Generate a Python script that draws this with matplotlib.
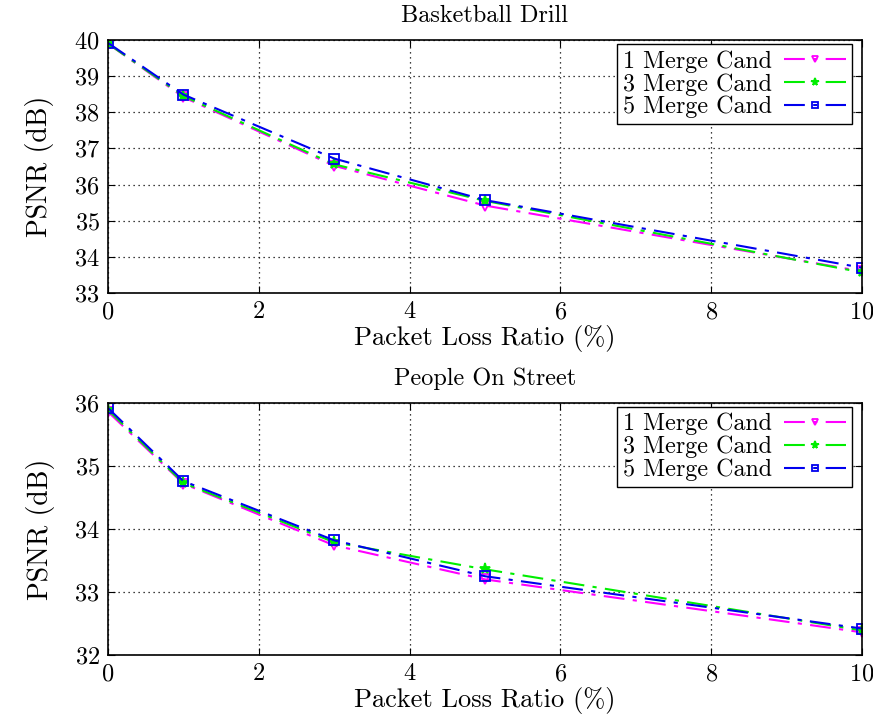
import matplotlib
matplotlib.use("Agg")
import matplotlib.pyplot as plt

# packet loss ratio (%)
loss = [0, 1, 3, 5, 10]

# Basketball Drill PSNR (dB)
bd_merge1 = [39.90, 38.42, 36.52, 35.42, 33.60]
bd_merge3 = [39.90, 38.45, 36.56, 35.55, 33.57]
bd_merge5 = [39.92, 38.49, 36.72, 35.57, 33.70]

# People On Street PSNR (dB)
ps_merge1 = [35.86, 34.72, 33.74, 33.20, 32.36]
ps_merge3 = [35.89, 34.73, 33.79, 33.36, 32.39]
ps_merge5 = [35.92, 34.76, 33.82, 33.25, 32.42]

labels = ["1 Merge Cand", "3 Merge Cand", "5 Merge Cand"]
colors = ["#ff00ff", "#00ee00", "#0000ee"]
markers = ["v", "*", "s"]

plt.rcParams["font.family"] = ["cmr10", "DejaVu Serif"]
plt.rcParams["axes.formatter.use_mathtext"] = True
plt.rcParams["mathtext.fontset"] = "cm"

fig = plt.figure(figsize=(8.73, 7.16), dpi=100)
ax1 = fig.add_axes([0.1237, 0.5908, 0.8637, 0.3533])
ax2 = fig.add_axes([0.1237, 0.0852, 0.8637, 0.3520])


def draw(ax, series, title, ylim, yticks):
    for ys, lab, c, m in zip(series, labels, colors, markers):
        ax.plot(loss, ys, color=c, lw=1.5, dashes=(10, 4, 2, 4),
                marker=m, markersize=8 if m == "*" else 7,
                markerfacecolor="none" if m != "*" else c,
                markeredgecolor=c, markeredgewidth=1.3, label=lab)
    ax.set_xlim(0, 10)
    ax.set_ylim(*ylim)
    ax.set_xticks([0, 2, 4, 6, 8, 10])
    ax.set_yticks(yticks)
    ax.grid(True, color="black", linestyle=(0, (1, 3)), linewidth=0.9)
    ax.tick_params(direction="in", top=True, right=True, labelsize=17.5, length=5, pad=6)
    for s in ax.spines.values():
        s.set_linewidth(1.2)
    ax.set_title(title, fontsize=17.5, pad=13)
    ax.set_xlabel("Packet Loss Ratio (%)", fontsize=19, labelpad=1)
    ax.set_ylabel("PSNR (dB)", fontsize=20, labelpad=14)
    leg = ax.legend(loc="upper right", bbox_to_anchor=(1 - 10 / 754, 1 - 4 / 253),
                    borderaxespad=0, fontsize=17.3, frameon=True, fancybox=False,
                    edgecolor="black", framealpha=1, markerfirst=False,
                    handlelength=2.6, labelspacing=0.02,
                    borderpad=0.25, handletextpad=0.5, markerscale=0.7)
    leg.get_frame().set_linewidth(1.0)


draw(ax1, [bd_merge1, bd_merge3, bd_merge5], "Basketball Drill", (33, 40), range(33, 41))
draw(ax2, [ps_merge1, ps_merge3, ps_merge5], "People On Street", (32, 36), range(32, 37))

fig.savefig("out.png", dpi=100)
